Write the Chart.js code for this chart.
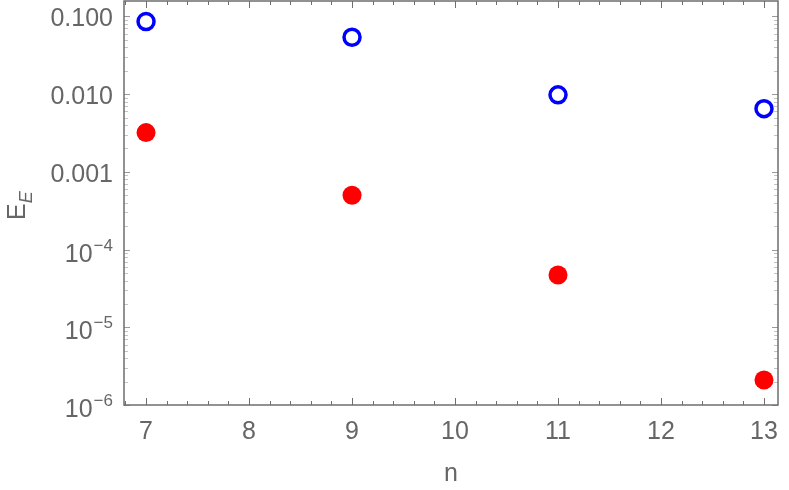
<!DOCTYPE html>
<html>
<head>
<meta charset="utf-8">
<script src="https://cdn.jsdelivr.net/npm/chart.js@4"></script>
<style>
  html, body { margin: 0; padding: 0; background: #ffffff; }
  #wrap { width: 789px; height: 490px; }
</style>
</head>
<body>
<div id="wrap"><canvas id="errorChart" width="789" height="490"></canvas></div>
<script>
// Data
const nValues = [7, 9, 11, 13]
const openErrors = [0.086, 0.054, 0.0098, 0.0065]
const filledErrors = [0.0032, 0.0005, 0.000047, 0.0000021]
const xTicks = [7, 8, 9, 10, 11, 12, 13]
const yTicks = [1e-6, 1e-5, 1e-4, 1e-3, 1e-2, 1e-1]
const yTickBase = ["10", "10", "10", "0.001", "0.010", "0.100"]
const yTickSup = ["\u22126", "\u22125", "\u22124", "", "", ""]

const frameColor = "#6e6e6e"
const labelColor = "#666666"
const fontFamily = "'Liberation Sans', Arial, sans-serif"

function line(ctx, x1, y1, x2, y2) {
  ctx.beginPath()
  ctx.moveTo(x1, y1)
  ctx.lineTo(x2, y2)
  ctx.stroke()
}

// Mathematica-style frame with inward ticks and labels
const framePlugin = {
  id: "frame",
  afterDraw(chart) {
    const { ctx, chartArea: a, scales: { x, y } } = chart
    ctx.save()

    // y minor ticks (light)
    ctx.lineWidth = 1
    ctx.strokeStyle = "#c4c4c4"
    for (let e = -6; e <= -1; e++) {
      for (let m = 2; m <= 9; m++) {
        const v = m * Math.pow(10, e)
        if (v > y.max) continue
        const py = Math.round(y.getPixelForValue(v)) + 0.5
        line(ctx, a.left, py, a.left + 4, py)
        line(ctx, a.right, py, a.right - 4, py)
      }
    }

    // y major ticks
    ctx.strokeStyle = "#9a9a9a"
    yTicks.forEach((v) => {
      const py = Math.round(y.getPixelForValue(v)) + 0.5
      line(ctx, a.left, py, a.left + 6, py)
      line(ctx, a.right, py, a.right - 6, py)
    })

    // x ticks
    ctx.strokeStyle = frameColor
    for (let i = 34; i <= 65; i++) {
      const v = i / 5
      const px = Math.round(x.getPixelForValue(v)) + 0.5
      const len = i % 5 === 0 ? 7 : 4
      line(ctx, px, a.bottom, px, a.bottom - len)
      line(ctx, px, a.top, px, a.top + len)
    }

    // frame
    ctx.lineWidth = 1.5
    ctx.strokeStyle = frameColor
    ctx.strokeRect(a.left, a.top, a.right - a.left, a.bottom - a.top)

    // x tick labels
    ctx.fillStyle = labelColor
    ctx.font = "25px " + fontFamily
    ctx.textAlign = "center"
    ctx.textBaseline = "alphabetic"
    xTicks.forEach((v) => {
      ctx.fillText(String(v), x.getPixelForValue(v), 439)
    })

    // y tick labels
    ctx.textAlign = "right"
    yTicks.forEach((v, i) => {
      const py = y.getPixelForValue(v)
      const right = 113
      if (yTickSup[i]) {
        ctx.font = "17px " + fontFamily
        const w = ctx.measureText(yTickSup[i]).width
        ctx.fillText(yTickSup[i], right, py + 1)
        ctx.font = "25px " + fontFamily
        ctx.fillText(yTickBase[i], right - w - 1, py + 12)
      } else {
        ctx.font = "25px " + fontFamily
        ctx.fillText(yTickBase[i], right, py + 10)
      }
    })

    // axis titles
    ctx.textAlign = "center"
    ctx.font = "25px " + fontFamily
    ctx.fillText("n", 451, 481)

    ctx.translate(25, 205)
    ctx.rotate(-Math.PI / 2)
    ctx.textAlign = "left"
    ctx.font = "25px " + fontFamily
    const ew = ctx.measureText("E").width
    ctx.fillText("E", -15, 0)
    ctx.font = "italic 18px " + fontFamily
    ctx.fillText("E", -15 + ew, 7)

    ctx.restore()
  },
}

const chart = new Chart(document.getElementById("errorChart"), {
  type: "scatter",
  data: {
    datasets: [
      {
        label: "open",
        data: nValues.map((n, i) => ({ x: n, y: openErrors[i] })),
        pointStyle: "circle",
        pointRadius: 8,
        pointBorderWidth: 3.5,
        pointBorderColor: "#0000ff",
        pointBackgroundColor: "rgba(255,255,255,0)",
      },
      {
        label: "filled",
        data: nValues.map((n, i) => ({ x: n, y: filledErrors[i] })),
        pointStyle: "circle",
        pointRadius: 9.5,
        pointBorderWidth: 0,
        pointBackgroundColor: "#ff0000",
      },
    ],
  },
  options: {
    responsive: false,
    animation: false,
    layout: {
      autoPadding: false,
      padding: { left: 124, right: 11, top: 1, bottom: 85 },
    },
    plugins: {
      legend: { display: false },
      tooltip: { enabled: false },
    },
    scales: {
      x: {
        type: "linear",
        display: false,
        bounds: "data",
        min: 6.786,
        max: 13.136,
      },
      y: {
        type: "logarithmic",
        display: false,
        bounds: "data",
        min: 1e-6,
        max: 0.158,
      },
    },
  },
  plugins: [framePlugin],
})
</script>
</body>
</html>
